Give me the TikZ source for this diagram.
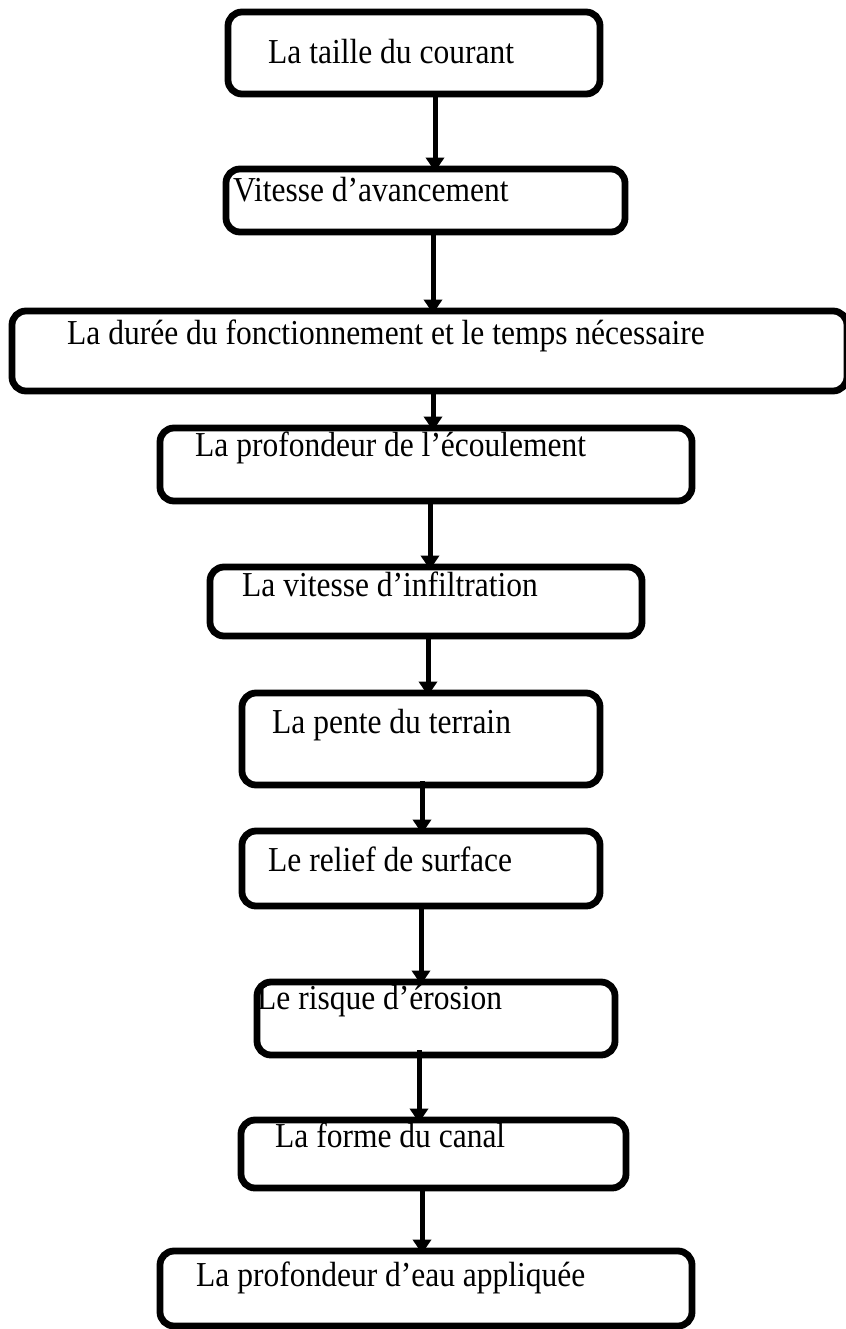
\documentclass[tikz,border=0pt]{standalone}
\usepackage{fontspec}
\setmainfont{Liberation Serif}[FakeStretch=0.9]
\usetikzlibrary{arrows.meta,fit}
\begin{document}
\begin{tikzpicture}[x=1pt,y=-1pt,
  box/.style={draw, line width=6.8pt, rounded corners=14pt, inner sep=0pt},
  lbl/.style={anchor=base west, inner sep=0pt, font=\fontsize{35}{40}\selectfont},
  arr/.style={line width=5pt, -{Triangle[width=18pt,length=14pt]}, shorten >=-6pt}]
\useasboundingbox[fill=white] (0,0) rectangle (845,1329);
% boxes
\node[box, fit={(228,12) (600,94)}] (b1) {};
\node[box, fit={(226,169) (625,232)}] (b2) {};
\node[box, fit={(12,311) (847,391)}] (b3) {};
\node[box, fit={(160,428) (692,501)}] (b4) {};
\node[box, fit={(210,567) (642,636)}] (b5) {};
\node[box, fit={(242,693) (600,785)}] (b6) {};
\node[box, fit={(242,831) (600,906)}] (b7) {};
\node[box, fit={(257,982) (615,1055)}] (b8) {};
\node[box, fit={(241,1120) (626,1188)}] (b9) {};
\node[box, fit={(160,1251) (692,1326)}] (b10) {};
% labels
\node[lbl] (t1) at (268,64) {La taille du courant};
\node[lbl] (t2) at (233,202) {Vitesse d’avancement};
\node[lbl] (t3) at (67,344) {La durée du fonctionnement et le temps nécessaire};
\node[lbl] (t4) at (195,456) {La profondeur de l’écoulement};
\node[lbl] (t5) at (242,596) {La vitesse d’infiltration};
\node[lbl] (t6) at (272,733) {La pente du terrain};
\node[lbl] (t7) at (268,871) {Le relief de surface};
\node[lbl] (t8) at (257,1009) {Le risque d’érosion};
\node[lbl] (t9) at (275,1147) {La forme du canal};
\node[lbl] (t10) at (196,1286) {La profondeur d’eau appliquée};
% arrow columns
\coordinate (a1) at (435,0);
\coordinate (a2) at (433,0);
\coordinate (a3) at (433,0);
\coordinate (a4) at (430,0);
\coordinate (a5) at (428,0);
\coordinate (a6) at (422,0);
\coordinate (a7) at (421,0);
\coordinate (a8) at (419,0);
\coordinate (a9) at (422,0);
% connectors
\draw[arr] (b1.south -| a1) -- (b2.north -| a1);
\draw[arr] (b2.south -| a2) -- (b3.north -| a2);
\draw[arr, shorten <=-6pt] (b3.south -| a3) -- (b4.north -| a3);
\draw[arr] (b4.south -| a4) -- (b5.north -| a4);
\draw[arr] (b5.south -| a5) -- (b6.north -| a5);
\draw[arr, shorten <=-7pt] (b6.south -| a6) -- (b7.north -| a6);
\draw[arr] (b7.south -| a7) -- (b8.north -| a7);
\draw[arr, shorten <=-8pt] (b8.south -| a8) -- (b9.north -| a8);
\draw[arr] (b9.south -| a9) -- (b10.north -| a9);
\end{tikzpicture}
\end{document}
